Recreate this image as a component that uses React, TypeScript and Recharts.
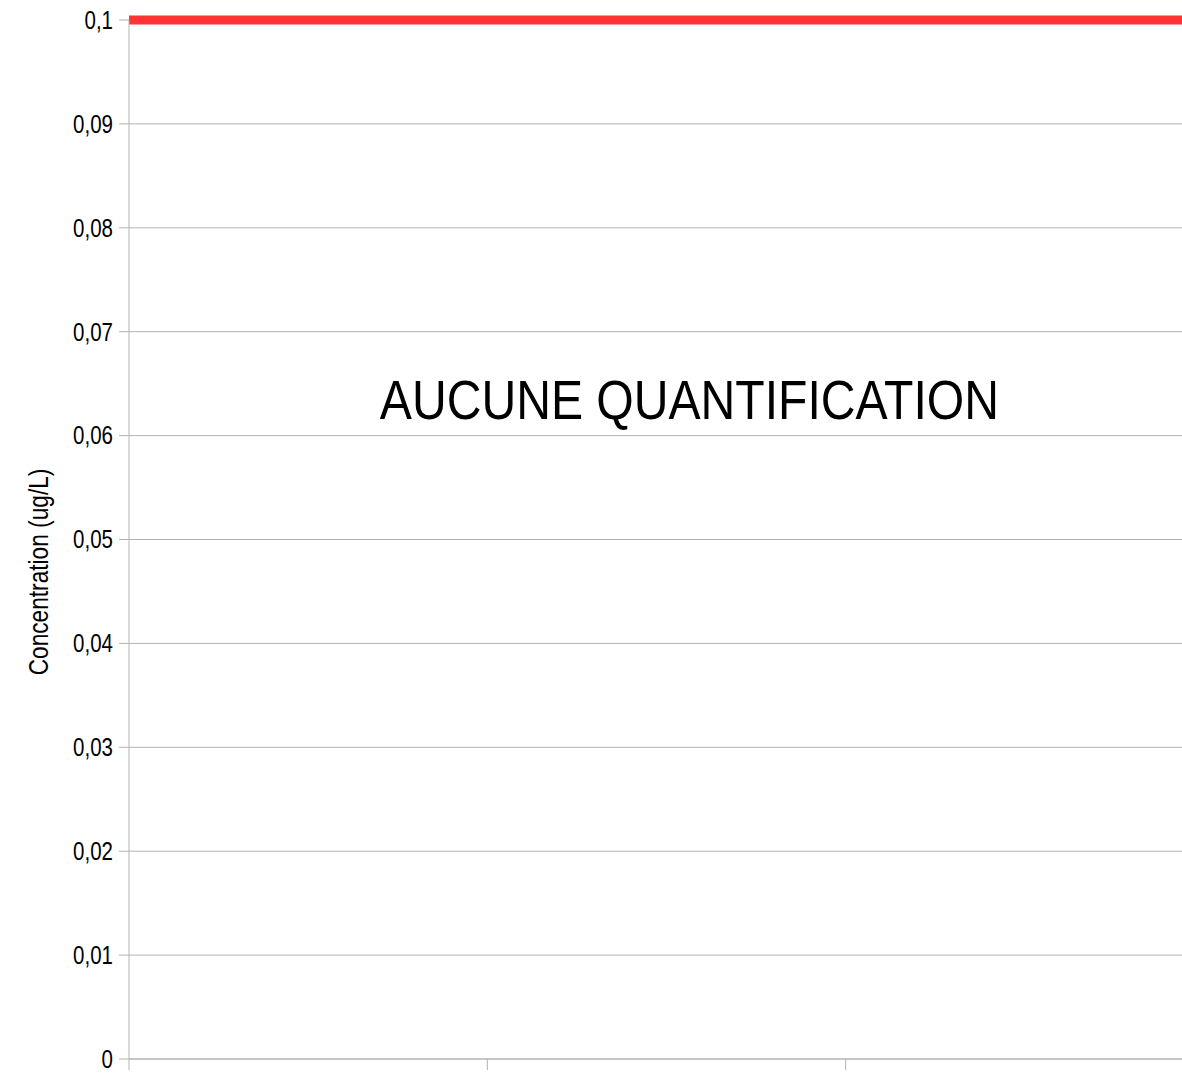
import {
  ComposedChart,
  CartesianGrid,
  Line,
  ReferenceDot,
  ReferenceLine,
  XAxis,
  YAxis,
} from "recharts";

// sampling periods (labels cut off in the source picture)
const categories = ["", "", ""];
// measured concentrations: nothing quantified
const concentrations: Array<number | null> = [null, null, null];
// regulatory threshold (ug/L)
const threshold = 0.1;
const yTicks = [0, 0.01, 0.02, 0.03, 0.04, 0.05, 0.06, 0.07, 0.08, 0.09, 0.1];
const xTicks = [0, 1, 2, 3];
const noteText = "AUCUNE QUANTIFICATION";
const yLabel = "Concentration (ug/L)";

// no narrow face available: Liberation Sans squeezed horizontally
const FONT = "'Liberation Sans', Arial, sans-serif";
const GRID = "#b3b3b3";

const data = categories.map((name, i) => ({
  name,
  x: i + 0.5,
  value: concentrations[i],
}));

const fmt = (v: number) => String(v).replace(".", ",");

function YTick(props: any) {
  const { x, y, payload } = props;
  return (
    <g transform={`translate(${x},${y})`}>
      <text
        transform="scale(0.82,1)"
        textAnchor="end"
        dy="0.355em"
        fontSize={25}
        fontFamily={FONT}
        fill="#000000"
      >
        {fmt(payload.value)}
      </text>
    </g>
  );
}

function Note(props: any) {
  const { cx, cy } = props;
  if (cx == null || cy == null) return <g />;
  return (
    <g transform={`translate(${cx},${cy})`}>
      <text
        transform="scale(0.875,1)"
        textAnchor="middle"
        dy="0.355em"
        fontSize={55}
        fontFamily={FONT}
        fill="#000000"
      >
        {noteText}
      </text>
    </g>
  );
}

export default function App() {
  return (
    <div
      style={{
        position: "absolute",
        left: 0,
        top: 0,
        width: 1182,
        height: 1073,
        overflow: "hidden",
        background: "#ffffff",
      }}
    >
      <ComposedChart
        width={1220}
        height={1073}
        data={data}
        margin={{ top: 20, right: 16, bottom: 0, left: 0 }}
      >
        <CartesianGrid stroke={GRID} vertical={false} />
        <XAxis
          dataKey="x"
          type="number"
          domain={[0, 3]}
          allowDataOverflow
          ticks={xTicks}
          interval={0}
          tickFormatter={() => ""}
          tickSize={11}
          height={14}
          stroke={GRID}
        />
        <YAxis
          type="number"
          domain={[0, 0.1]}
          allowDataOverflow
          ticks={yTicks}
          interval={0}
          width={129}
          tickSize={10}
          tickMargin={6}
          stroke={GRID}
          tick={<YTick />}
          label={{
            content: () => (
              <g transform="translate(48,572) rotate(-90)">
                <text
                  transform="scale(0.84,1)"
                  textAnchor="middle"
                  fontSize={27}
                  fontFamily={FONT}
                  fill="#000000"
                >
                  {yLabel}
                </text>
              </g>
            ),
          }}
        />
        <Line
          dataKey="value"
          stroke="#004586"
          strokeWidth={3}
          dot={false}
          isAnimationActive={false}
        />
        <ReferenceLine y={threshold} stroke="#ff3333" strokeWidth={9} />
        <ReferenceDot x={1.564} y={0.0635} r={0} shape={<Note />} />
      </ComposedChart>
    </div>
  );
}
